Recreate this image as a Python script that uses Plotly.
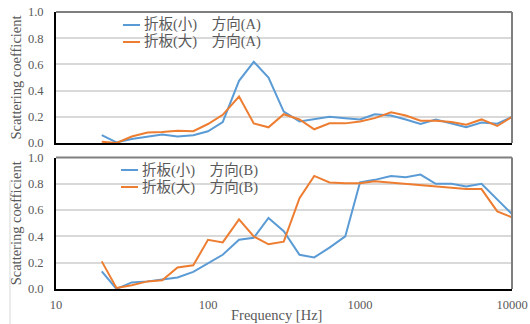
import plotly.graph_objects as go

freqs = [20, 25, 31.5, 40, 50, 63, 80, 100, 125, 160, 200, 250, 315, 400, 500, 630,
         800, 1000, 1250, 1600, 2000, 2500, 3150, 4000, 5000, 6300, 8000, 10000]

small_A = [0.06, 0.005, 0.03, 0.05, 0.065, 0.05, 0.06, 0.09, 0.16, 0.475, 0.62, 0.50,
           0.24, 0.165, 0.18, 0.20, 0.19, 0.18, 0.22, 0.21, 0.18, 0.145, 0.18, 0.147,
           0.12, 0.157, 0.147, 0.20]
large_A = [0.01, 0.0, 0.05, 0.08, 0.085, 0.093, 0.09, 0.145, 0.215, 0.355, 0.15, 0.12,
           0.22, 0.18, 0.105, 0.15, 0.15, 0.165, 0.19, 0.235, 0.21, 0.17, 0.17, 0.16,
           0.14, 0.18, 0.13, 0.20]
small_B = [0.134, 0.0, 0.05, 0.058, 0.073, 0.088, 0.13, 0.197, 0.26, 0.374, 0.39, 0.54,
           0.44, 0.26, 0.24, 0.315, 0.40, 0.81, 0.83, 0.86, 0.85, 0.87, 0.80, 0.80,
           0.78, 0.80, 0.68, 0.57]
large_B = [0.21, 0.008, 0.028, 0.058, 0.066, 0.164, 0.18, 0.374, 0.354, 0.53, 0.40, 0.34,
           0.36, 0.69, 0.86, 0.81, 0.805, 0.805, 0.82, 0.81, 0.80, 0.79, 0.78, 0.77,
           0.76, 0.76, 0.59, 0.545]

names_A = ["折板(小)　方向(A)", "折板(大)　方向(A)"]
names_B = ["折板(小)　方向(B)", "折板(大)　方向(B)"]
y_ticks = [0.0, 0.2, 0.4, 0.6, 0.8, 1.0]
y_tick_text = ["0.0", "0.2", "0.4", "0.6", "0.8", "1.0"]
x_ticks = [10, 100, 1000, 10000]
x_tick_text = ["10", "100", "1000", "10000"]

BLUE = "#5B9BD5"
ORANGE = "#ED7D31"
FONT = "Liberation Serif, 'Noto Sans CJK JP', serif"
GRAY = "#595959"
colors = [BLUE, ORANGE]

fig = go.Figure()
for ys, nm, c in [(small_A, names_A[0], BLUE), (large_A, names_A[1], ORANGE)]:
    fig.add_trace(go.Scatter(x=freqs, y=ys, name=nm, mode="lines", showlegend=False,
                             line=dict(color=c, width=2), xaxis="x", yaxis="y"))
for ys, nm, c in [(small_B, names_B[0], BLUE), (large_B, names_B[1], ORANGE)]:
    fig.add_trace(go.Scatter(x=freqs, y=ys, name=nm, mode="lines", showlegend=False,
                             line=dict(color=c, width=2), xaxis="x2", yaxis="y2"))

common_x = dict(type="log", range=[1, 4], showgrid=False, zeroline=False, automargin=False,
                showline=True, linecolor="black", linewidth=2, ticks="",
                tickvals=x_ticks, ticktext=x_tick_text, ticklabelstandoff=3,
                tickfont=dict(family=FONT, size=12.5, color=GRAY))
common_y = dict(range=[0, 1.0], tickvals=y_ticks, ticktext=y_tick_text, automargin=False,
                showgrid=True, gridcolor="#D9D9D9", gridwidth=1.5, zeroline=False,
                showline=True, linecolor="black", linewidth=2, ticks="",
                ticklabelstandoff=8,
                tickfont=dict(family=FONT, size=12.5, color=GRAY),
                title=dict(text="Scattering coefficient", font=dict(family=FONT, size=14.5, color=GRAY),
                           standoff=3))

# manual legends (paper coordinates)
legend_specs = [
    (names_A, 0.1886, 0.1469, 0.1842, [0.9531, 0.8917], (0.1031, 0.5044, 0.8628, 0.9892)),
    (names_B, 0.1842, 0.1425, 0.1798, [0.4296, 0.3682], (0.0987, 0.5044, 0.3357, 0.4693)),
]
shapes = [
    dict(type="line", xref="x domain", yref="y domain", x0=0, x1=1, y0=1, y1=1,
         line=dict(color="#7F7F7F", width=2)),
    dict(type="line", xref="x domain", yref="y domain", x0=1, x1=1, y0=0, y1=1,
         line=dict(color="#7F7F7F", width=2)),
    dict(type="line", xref="x2 domain", yref="y2 domain", x0=0, x1=1, y0=1, y1=1,
         line=dict(color="#7F7F7F", width=2)),
    dict(type="line", xref="x2 domain", yref="y2 domain", x0=1, x1=1, y0=0, y1=1,
         line=dict(color="#7F7F7F", width=2)),
    dict(type="line", xref="paper", yref="paper", x0=-0.1009, x1=-0.1009, y0=-0.2, y1=0.3935,
         line=dict(color="#D9D9D9", width=1)),
]
annotations = [dict(text="Frequency [Hz]", x=0.4825, y=-0.094, xref="paper", yref="paper",
                    xanchor="center", yanchor="middle", showarrow=False,
                    font=dict(family=FONT, size=14.5, color=GRAY))]
for names, tx, lx0, lx1, rows, box in legend_specs:
    shapes.append(dict(type="rect", xref="paper", yref="paper", x0=box[0], x1=box[1],
                       y0=box[2], y1=box[3], fillcolor="white", line=dict(width=0),
                       layer="between"))
    for nm, ry, c in zip(names, rows, colors):
        shapes.append(dict(type="line", xref="paper", yref="paper", x0=lx0, x1=lx1,
                           y0=ry, y1=ry, line=dict(color=c, width=2)))
        annotations.append(dict(text=nm, x=tx, y=ry, xref="paper", yref="paper",
                                xanchor="left", yanchor="middle", showarrow=False,
                                font=dict(family=FONT, size=14.5, color=GRAY)))

fig.update_layout(
    width=530, height=324,
    margin=dict(l=56, r=18, t=12, b=35),
    paper_bgcolor="white", plot_bgcolor="white",
    xaxis=dict(common_x, domain=[0, 1], anchor="y", showticklabels=False),
    yaxis=dict(common_y, domain=[0.527, 1.0], anchor="x"),
    xaxis2=dict(common_x, domain=[0, 1], anchor="y2"),
    yaxis2=dict(common_y, domain=[0, 0.4747], anchor="x2"),
    showlegend=False,
    annotations=annotations,
    shapes=shapes,
)

fig.write_html("out.html", config={"displayModeBar": False})
with open("out.html", encoding="utf-8") as f:
    html = f.read()
html = html.replace("<head>", "<head><style>html,body{margin:0;padding:0;overflow:hidden}</style>", 1)
with open("out.html", "w", encoding="utf-8") as f:
    f.write(html)
